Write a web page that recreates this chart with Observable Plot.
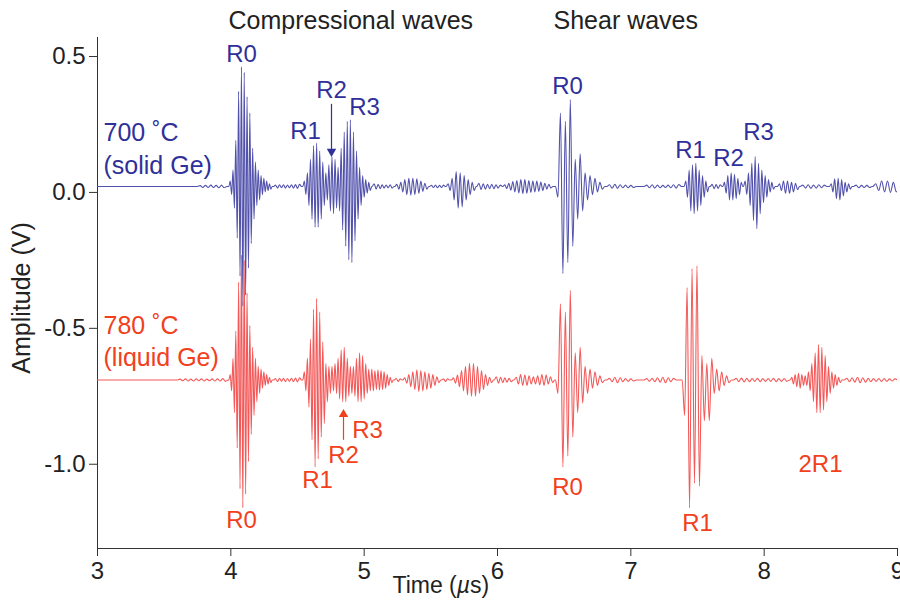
<!DOCTYPE html>
<html><head><meta charset="utf-8">
<script src="https://cdn.jsdelivr.net/npm/d3@7"></script>
<script src="https://cdn.jsdelivr.net/npm/@observablehq/plot@0.6"></script>
<style>body{margin:0;background:#fff;}</style>
</head><body><div id="chart"></div>
<script>
// ---------- data ----------
const xDomain = [3, 9];
const yDomain = [-1.31, 0.57];
const xTicks = [3, 4, 5, 6, 7, 8, 9];
const yTicks = [0.5, 0.0, -0.5, -1.0];

const blueBaseline = 0.022;   // 700 ˚C trace offset (V)
const redBaseline = -0.69;    // 780 ˚C trace offset (V)

// wave packets: start time (µs), half-period step (µs), successive extrema relative to baseline (V)
const bluePackets = [
  {start: 3.75, step: 0.02, peaks: [0.003,-0.004,0.004,-0.004,0.005,-0.004,0.004,-0.005,0.005,-0.005]},
  {start: 3.985, step: 0.0105, peaks: [0.02,-0.03,0.06,-0.08,0.17,-0.19,0.35,-0.33,0.44,-0.44,0.42,-0.40,0.33,-0.30,0.27,-0.21,0.14,-0.12,0.09,-0.07,0.06,-0.05,0.04,-0.03,0.03,-0.02,0.02,-0.015,0.01,-0.01]},
  {start: 4.32, step: 0.015, peaks: [0.005,-0.006,0.006,-0.005,0.006,-0.006,0.005,-0.005,0.006,-0.006,0.007,-0.007,0.008]},
  {start: 4.54, step: 0.0115, peaks: [0.02,-0.03,0.05,-0.07,0.10,-0.12,0.15,-0.15,0.16,-0.15,0.13,-0.12,0.09,-0.07,0.05,-0.05,0.08,-0.09,0.11,-0.10,0.10,-0.08,0.07,-0.09,0.14,-0.16,0.20,-0.22,0.24,-0.27,0.245,-0.28,0.20,-0.20,0.13,-0.12,0.07,-0.07,0.04,-0.04,0.025,-0.025,0.015,-0.015]},
  {start: 5.06, step: 0.015, peaks: [0.01,-0.01,0.008,-0.008,0.006,-0.006,0.005,-0.005,0.006,-0.006]},
  {start: 5.23, step: 0.015, peaks: [0.008,-0.01,0.015,-0.02,0.025,-0.03,0.03,-0.032,0.03,-0.03,0.028,-0.025,0.02,-0.018,0.012,-0.01]},
  {start: 5.49, step: 0.015, peaks: [0.004,-0.004,0.005,-0.005,0.004,-0.004,0.005]},
  {start: 5.615, step: 0.015, peaks: [0.01,-0.015,0.03,-0.05,0.055,-0.08,0.05,-0.075,0.04,-0.05,0.025,-0.03,0.015,-0.015]},
  {start: 5.845, step: 0.016, peaks: [0.012,-0.012,0.01,-0.01,0.008,-0.008,0.008,-0.008,0.006,-0.006,0.005]},
  {start: 6.04, step: 0.015, peaks: [0.006,-0.008,0.012,-0.014,0.018,-0.02,0.022,-0.024,0.025,-0.026,0.025,-0.025,0.022,-0.022,0.02,-0.02,0.02,-0.018,0.016,-0.015,0.012,-0.01,0.008,-0.006]},
  {start: 6.435, step: 0.0185, peaks: [-0.04,0.27,-0.32,0.24,-0.28,0.32,-0.22,0.10,-0.12,0.12,-0.09,0.05,-0.05,0.04,-0.03,0.03,-0.02,0.015,-0.01]},
  {start: 6.82, step: 0.02, peaks: [0.006,-0.006,0.008,-0.007,0.006,-0.005,0.005,-0.005,0.004,-0.004]},
  {start: 7.1, step: 0.02, peaks: [0.005,-0.005,0.006,-0.006,0.005,-0.005,0.004,-0.004,0.005,-0.005,0.006,-0.006,0.007]},
  {start: 7.40, step: 0.0125, peaks: [0.02,-0.04,0.06,-0.09,0.08,-0.10,0.085,-0.09,0.06,-0.07,0.04,-0.04,0.02,-0.02]},
  {start: 7.595, step: 0.015, peaks: [0.008,-0.008,0.007,-0.007,0.006]},
  {start: 7.69, step: 0.0125, peaks: [0.015,-0.025,0.04,-0.05,0.05,-0.05,0.045,-0.045,0.03,-0.03,0.015]},
  {start: 7.845, step: 0.0125, peaks: [0.02,-0.03,0.05,-0.07,0.085,-0.125,0.11,-0.155,0.085,-0.10,0.06,-0.06,0.04,-0.04,0.025,-0.02,0.015,-0.01]},
  {start: 8.1, step: 0.015, peaks: [0.01,-0.015,0.02,-0.025,0.02,-0.025,0.015,-0.02,0.012,-0.012]},
  {start: 8.27, step: 0.02, peaks: [0.005,-0.006,0.006,-0.007,0.005,-0.006,0.006,-0.005,0.005]},
  {start: 8.49, step: 0.013, peaks: [0.01,-0.02,0.028,-0.045,0.03,-0.05,0.025,-0.035,0.015,-0.02,0.01,-0.01]},
  {start: 8.67, step: 0.02, peaks: [0.005,-0.005,0.004,-0.004,0.004,-0.004]},
  {start: 8.815, step: 0.022, peaks: [0.01,-0.015,0.02,-0.02,0.02,-0.022,0.015,-0.02]}
];

const redPackets = [
  {start: 3.6, step: 0.02, peaks: [0.003,-0.003,0.004,-0.004,0.003,-0.004,0.004,-0.003,0.004,-0.004,0.003,-0.003,0.004,-0.004,0.004,-0.004,0.005,-0.005]},
  {start: 3.985, step: 0.0105, peaks: [0.02,-0.04,0.08,-0.12,0.18,-0.25,0.36,-0.40,0.46,-0.47,0.44,-0.42,0.32,-0.30,0.20,-0.20,0.12,-0.13,0.08,-0.08,0.05,-0.05,0.04,-0.03,0.03,-0.02,0.02,-0.015,0.01,-0.01]},
  {start: 4.32, step: 0.015, peaks: [0.005,-0.006,0.006,-0.005,0.006,-0.006,0.005,-0.005,0.006,-0.006,0.007,-0.007,0.008]},
  {start: 4.54, step: 0.0115, peaks: [0.03,-0.04,0.08,-0.10,0.15,-0.22,0.26,-0.32,0.30,-0.29,0.25,-0.21,0.14,-0.16,0.06,-0.08,0.05,-0.05,0.05,-0.04,0.06,-0.05,0.08,-0.07,0.11,-0.08,0.12,-0.08,0.08,-0.06,0.05,-0.05,0.05,-0.06,0.08,-0.08,0.10,-0.08,0.09,-0.07,0.06,-0.05,0.04,-0.04,0.04,-0.04,0.035,-0.035,0.037,-0.037,0.035,-0.035,0.03,-0.03,0.02,-0.02,0.01,-0.01]},
  {start: 5.225, step: 0.015, peaks: [0.005,-0.005,0.004]},
  {start: 5.29, step: 0.015, peaks: [0.008,-0.012,0.02,-0.025,0.03,-0.035,0.037,-0.043,0.035,-0.04,0.03,-0.035,0.025,-0.03,0.02,-0.02,0.012,-0.01]},
  {start: 5.58, step: 0.015, peaks: [0.004,-0.005,0.004]},
  {start: 5.655, step: 0.015, peaks: [0.008,-0.012,0.018,-0.025,0.035,-0.04,0.05,-0.055,0.06,-0.06,0.06,-0.06,0.05,-0.05,0.035,-0.035,0.02,-0.02,0.01,-0.01]},
  {start: 5.975, step: 0.016, peaks: [0.012,-0.012,0.01,-0.01,0.008,-0.008,0.006,-0.006]},
  {start: 6.125, step: 0.016, peaks: [0.01,-0.015,0.02,-0.02,0.018,-0.02,0.015,-0.015,0.012,-0.015,0.015,-0.018,0.02,-0.02,0.018,-0.015,0.012,-0.01]},
  {start: 6.435, step: 0.0185, peaks: [-0.05,0.28,-0.32,0.25,-0.28,0.33,-0.21,0.10,-0.12,0.12,-0.085,0.05,-0.05,0.04,-0.03,0.03,-0.02,0.015,-0.01]},
  {start: 6.82, step: 0.02, peaks: [0.006,-0.006,0.01,-0.01,0.008,-0.006,0.005,-0.005,0.004,-0.004]},
  {start: 7.1, step: 0.02, peaks: [0.005,-0.005,0.006,-0.006,0.008,-0.008,0.01,-0.01,0.008,-0.006,0.006]},
  {start: 7.385, step: 0.0185, peaks: [-0.13,0.34,-0.47,0.41,-0.38,0.42,-0.39,0.09,-0.15,0.06,-0.15,0.08,-0.05,0.04,-0.04,0.03,-0.02,0.015,-0.01]},
  {start: 7.77, step: 0.02, peaks: [0.006,-0.006,0.007,-0.007,0.006,-0.006,0.005,-0.005,0.006,-0.006,0.005,-0.005,0.005,-0.005,0.006,-0.006,0.005,-0.005,0.005,-0.005]},
  {start: 8.195, step: 0.0125, peaks: [0.01,-0.015,0.02,-0.025,0.025,-0.03,0.02,-0.02,0.015,-0.02,0.03,-0.04,0.06,-0.08,0.10,-0.12,0.13,-0.12,0.12,-0.11,0.09,-0.08,0.05,-0.05,0.03,-0.03,0.02,-0.02,0.01,-0.01]},
  {start: 8.6, step: 0.02, peaks: [0.006,-0.006,0.008,-0.008,0.01,-0.01,0.008,-0.008,0.006,-0.006,0.005,-0.005,0.005,-0.005,0.005,-0.005,0.004,-0.004,0.004]}
];

// annotation labels (time µs, amplitude V)
const blueLabels = [
  {label: "R0", t: 4.08, v: 0.507},
  {label: "R1", t: 4.56, v: 0.224},
  {label: "R2", t: 4.755, v: 0.375},
  {label: "R3", t: 5.0025, v: 0.3125},
  {label: "R0", t: 6.525, v: 0.39},
  {label: "R1", t: 7.4475, v: 0.154},
  {label: "R2", t: 7.7325, v: 0.125},
  {label: "R3", t: 7.9575, v: 0.22}
];
const redLabels = [
  {label: "R0", t: 4.08, v: -1.206},
  {label: "R1", t: 4.65, v: -1.059},
  {label: "R2", t: 4.845, v: -0.967},
  {label: "R3", t: 5.025, v: -0.875},
  {label: "R0", t: 6.525, v: -1.085},
  {label: "R1", t: 7.5, v: -1.217},
  {label: "2R1", t: 8.4225, v: -1.0}
];
const blueCaption = [{label: "700 ˚C", t: 3.045, v: 0.217}, {label: "(solid Ge)", t: 3.045, v: 0.096}];
const redCaption = [{label: "780 ˚C", t: 3.045, v: -0.493}, {label: "(liquid Ge)", t: 3.045, v: -0.61}];
const headers = [{label: "Compressional waves", t: 3.9825, v: 0.632}, {label: "Shear waves", t: 6.42, v: 0.632}];
const blueArrows = [{t: 4.755, v1: 0.324, v2: 0.143}];
const redArrows = [{t: 4.845, v1: -0.912, v2: -0.809}];
const xTitle = [{label: "Time (µs)", t: 5.575}];
const yTitle = ["Amplitude (V)"];

// ---------- build traces ----------
function trace(baseline, packets) {
  const pts = [{t: xDomain[0], v: baseline}];
  const add = (t, v) => { if (t > pts[pts.length - 1].t + 1e-9) pts.push({t, v}); };
  for (const p of packets) {
    add(p.start, baseline);
    p.peaks.forEach((a, i) => add(p.start + (i + 1) * p.step, baseline + a));
    add(p.start + (p.peaks.length + 1) * p.step, baseline);
  }
  add(xDomain[1], baseline);
  return pts;
}
const blue = trace(blueBaseline, bluePackets);
const red = trace(redBaseline, redPackets);

const blueLine = "#5252ad", redLine = "#f45858";
const blueText = "#30309a", redText = "#f2401c";
const axisColor = "#333";
const font = "'Liberation Sans', Arial, Helvetica, sans-serif";

const chart = Plot.plot({
  width: 900, height: 610,
  marginLeft: 97, marginRight: 3, marginTop: 37, marginBottom: 62,
  x: {domain: xDomain},
  y: {domain: yDomain},
  style: {fontFamily: font, fontSize: "24px", color: "#222", background: "#fff", overflow: "visible"},
  marks: [
    Plot.axisX({ticks: xTicks, tickSize: 8, tickPadding: 5, label: null, fontSize: 24, stroke: axisColor, tickFormat: d => String(d)}),
    Plot.axisY({ticks: yTicks, tickSize: 8, tickPadding: 4, label: null, fontSize: 24, stroke: axisColor, tickFormat: d => d.toFixed(1)}),
    Plot.ruleX([xDomain[0]], {stroke: axisColor}),
    Plot.ruleY([yDomain[0]], {stroke: axisColor}),
    Plot.line(blue, {x: "t", y: "v", stroke: blueLine, strokeWidth: 1.1, curve: "monotone-x", clip: true}),
    Plot.line(red, {x: "t", y: "v", stroke: redLine, strokeWidth: 1.1, curve: "monotone-x", clip: true}),
    Plot.text(headers, {x: "t", y: "v", text: "label", textAnchor: "start", fill: "#222", fontSize: 25}),
    Plot.text(blueLabels, {x: "t", y: "v", text: "label", fill: blueText, fontSize: 24}),
    Plot.text(redLabels, {x: "t", y: "v", text: "label", fill: redText, fontSize: 24}),
    Plot.text(blueCaption, {x: "t", y: "v", text: "label", textAnchor: "start", fill: blueText, fontSize: 25}),
    Plot.text(redCaption, {x: "t", y: "v", text: "label", textAnchor: "start", fill: redText, fontSize: 25}),
    Plot.ruleX(blueArrows, {x: "t", y1: "v1", y2: "v2", stroke: blueText, strokeWidth: 1.2}),
    Plot.dot(blueArrows, {x: "t", y: "v2", symbol: "triangle", rotate: 180, r: 3.5, fill: blueText, stroke: "none", dy: -2}),
    Plot.ruleX(redArrows, {x: "t", y1: "v1", y2: "v2", stroke: redText, strokeWidth: 1.2}),
    Plot.dot(redArrows, {x: "t", y: "v2", symbol: "triangle", r: 3.5, fill: redText, stroke: "none", dy: 2}),
    Plot.text(xTitle, {x: "t", frameAnchor: "bottom", lineAnchor: "middle", dy: 37, text: "label", fill: "#222", fontSize: 23}),
    Plot.text(yTitle, {frameAnchor: "left", textAnchor: "middle", lineAnchor: "middle", dx: -76, dy: 5, rotate: -90, text: d => d, fill: "#222", fontSize: 25})
  ]
});

// italic µ in the time title
d3.select(chart).selectAll("text").filter(function () { return this.textContent === "Time (µs)"; })
  .each(function () {
    const t = d3.select(this);
    t.text(null);
    t.append("tspan").text("Time (");
    t.append("tspan").attr("font-style", "italic").text("µ");
    t.append("tspan").text("s)");
  });

document.getElementById("chart").appendChild(chart);
</script>
</body></html>
